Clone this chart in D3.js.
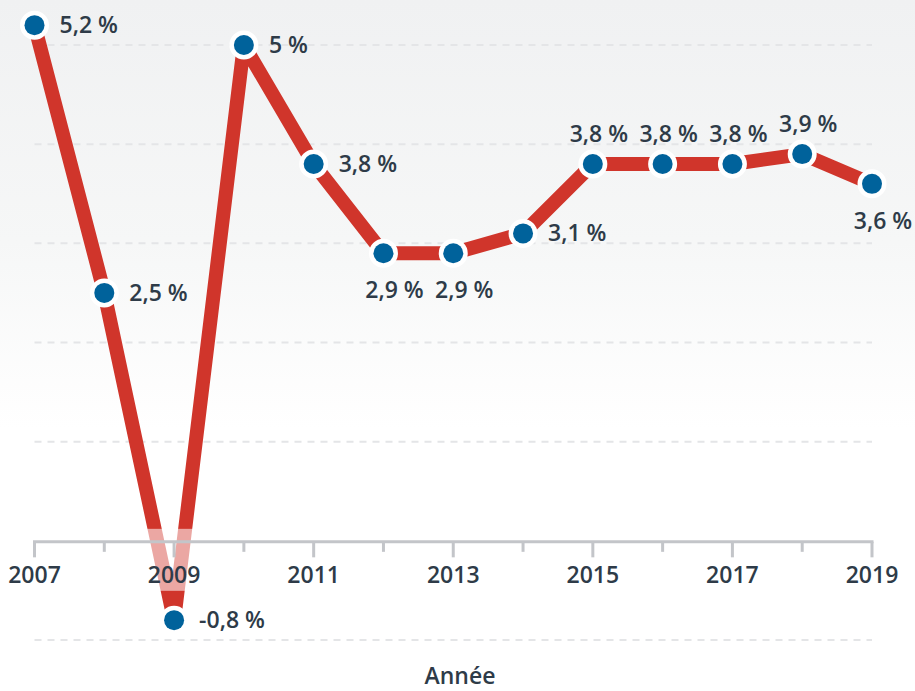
<!DOCTYPE html>
<html>
<head>
<meta charset="utf-8">
<script src="https://cdn.jsdelivr.net/npm/d3@7"></script>
<style>
  html, body { margin: 0; padding: 0; background: #fff; }
  svg { display: block; }
  text { font-family: "Open Sans", "Noto Sans", sans-serif; }
</style>
</head>
<body>
<svg id="chart" width="915" height="691"></svg>
<script>
// ---- data ----
const years = [2007, 2008, 2009, 2010, 2011, 2012, 2013, 2014, 2015, 2016, 2017, 2018, 2019];
const growth = [5.2, 2.5, -0.8, 5, 3.8, 2.9, 2.9, 3.1, 3.8, 3.8, 3.8, 3.9, 3.6];
const labelPlacement = ["right", "right", "right", "right", "right", "below", "below", "right", "above", "above", "above", "above", "below"];
const tickYears = [2007, 2009, 2011, 2013, 2015, 2017, 2019];
const gridValues = [-1, 1, 2, 3, 4, 5];
const axisTitle = "Année";

// ---- drawing ----
const W = 915, H = 691;
const svg = d3.select("#chart");

const defs = svg.append("defs");
const grad = defs.append("linearGradient").attr("id", "bg").attr("x1", 0).attr("y1", 0).attr("x2", 0).attr("y2", 1);
grad.append("stop").attr("offset", "0%").attr("stop-color", "#f0f1f2");
grad.append("stop").attr("offset", "35%").attr("stop-color", "#f6f7f7");
grad.append("stop").attr("offset", "62%").attr("stop-color", "#ffffff");
grad.append("stop").attr("offset", "100%").attr("stop-color", "#ffffff");
svg.append("rect").attr("width", W).attr("height", H).attr("fill", "url(#bg)");

const x = d3.scaleLinear().domain([2007, 2019]).range([34.5, 872]);
const y = d3.scaleLinear().domain([-1, 5]).range([640, 45]);

// gridlines
svg.append("g").selectAll("line").data(gridValues).join("line")
  .attr("x1", x(2007)).attr("x2", x(2019))
  .attr("y1", d => y(d)).attr("y2", d => y(d))
  .attr("stroke", "#e4e5e7").attr("stroke-width", 2)
  .attr("stroke-dasharray", "7,6");

const pts = years.map((yr, i) => ({ year: yr, v: growth[i], pos: labelPlacement[i] }));

// line
const line = d3.line().x(d => x(d.year)).y(d => y(d.v));
svg.append("path").datum(pts)
  .attr("d", line)
  .attr("fill", "none")
  .attr("stroke", "#d0352b")
  .attr("stroke-width", 14)
  .attr("stroke-linejoin", "round");

// semi-transparent label band over the line
svg.append("rect")
  .attr("x", 0).attr("width", W)
  .attr("y", y(0) - 12).attr("height", 62)
  .attr("fill", "#ffffff").attr("fill-opacity", 0.57);

// x axis
const axisY = y(0) + 1;
const axis = svg.append("g");
axis.append("line")
  .attr("x1", x(2007) - 1.5).attr("x2", x(2019) + 1.5)
  .attr("y1", axisY).attr("y2", axisY)
  .attr("stroke", "#c3c5c9").attr("stroke-width", 3);
axis.selectAll("line.tick").data(years).join("line")
  .attr("class", "tick")
  .attr("x1", d => x(d)).attr("x2", d => x(d))
  .attr("y1", axisY).attr("y2", d => axisY + (tickYears.includes(d) ? 15.5 : 10))
  .attr("stroke", "#c3c5c9").attr("stroke-width", 3);
axis.selectAll("text").data(tickYears).join("text")
  .attr("x", d => x(d)).attr("y", 583)
  .attr("text-anchor", "middle")
  .attr("font-size", 23).attr("font-weight", 600)
  .attr("fill", "#2e3b48")
  .text(d => d);

// dots
svg.append("g").selectAll("circle").data(pts).join("circle")
  .attr("cx", d => x(d.year)).attr("cy", d => y(d.v))
  .attr("r", 10)
  .attr("fill", "#00629b")
  .attr("stroke", "#ffffff").attr("stroke-width", 9)
  .attr("paint-order", "stroke");

// data labels
const fmt = v => String(v).replace(".", ",") + " %";
svg.append("g").selectAll("text").data(pts).join("text")
  .attr("x", d => d.pos === "right" ? x(d.year) + 25 : d.pos === "above" ? x(d.year) + 6 : x(d.year) + 11)
  .attr("y", d => d.pos === "right" ? y(d.v) + 8 : d.pos === "above" ? y(d.v) - 22 : y(d.v) + 45)
  .attr("text-anchor", d => d.pos === "right" ? "start" : "middle")
  .attr("font-size", 23).attr("font-weight", 600)
  .attr("fill", "#2e3b48")
  .text(d => fmt(d.v));

// axis title
svg.append("text")
  .attr("x", 460).attr("y", 684)
  .attr("text-anchor", "middle")
  .attr("font-size", 23).attr("font-weight", 600)
  .attr("fill", "#2e3b48")
  .text(axisTitle);
</script>
</body>
</html>
